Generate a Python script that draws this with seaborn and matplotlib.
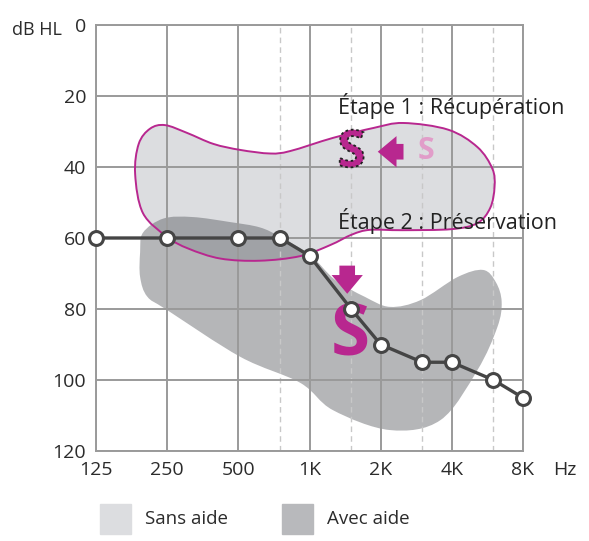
import numpy as np
import matplotlib
matplotlib.use("Agg")
import matplotlib.pyplot as plt
import matplotlib.patheffects as pe
from matplotlib.path import Path
from matplotlib.patches import PathPatch, Rectangle
import seaborn as sns
import pandas as pd

# --- donnees ---
freq_labels = ["125", "250", "500", "1K", "2K", "4K", "8K"]
freq_main = [125, 250, 500, 1000, 2000, 4000, 8000]
freq_half = [750, 1500, 3000, 6000]
db_ticks = [0, 20, 40, 60, 80, 100, 120]

seuil_freq = [125, 250, 500, 750, 1000, 1500, 2000, 3000, 4000, 6000, 8000]
seuil_db = [60, 60, 60, 60, 65, 80, 90, 95, 95, 100, 105]

# contour "Sans aide" (octaves depuis 125 Hz, dB HL)
sans_oct = [0.97, 1.28, 1.65, 2.03, 2.45, 2.73, 3.33, 3.9, 4.32, 4.95, 5.36, 5.57,
            5.6, 5.54, 5.36, 5.0, 4.3, 3.85, 3.6, 3.29, 2.87, 2.3, 1.75, 1.3, 1.0,
            0.66, 0.55, 0.6, 0.76]
sans_db = [28.2, 30.4, 33.5, 35.2, 36.2, 35.5, 31.8, 29.0, 27.6, 29.5, 34.4, 40.5,
           45.6, 51.5, 55.8, 57.5, 57.8, 57.7, 59.0, 62.0, 65.1, 66.4, 65.8, 63.0,
           59.7, 53.0, 42.0, 33.5, 29.2]

# contour "Avec aide"
avec_oct = [1.36, 1.88, 2.3, 2.59, 3.01, 3.36, 3.78, 4.13, 4.56, 5.08, 5.44, 5.62,
            5.7, 5.64, 5.36, 4.84, 4.13, 3.33, 2.87, 2.03, 1.0, 0.72, 0.62, 0.62, 0.66, 0.95]
avec_db = [54.1, 55.5, 57.0, 59.7, 64.8, 71.8, 76.6, 79.4, 77.5, 71.0, 69.0, 72.5,
           78.0, 85.1, 97.2, 111.3, 114.1, 108.5, 100.8, 93.5, 80.3, 76.5, 71.0, 64.0,
           58.5, 54.5]

MAGENTA = "#b8278f"
ROSE = "#e19dc9"
GRIS_CLAIR = "#dcdde0"
GRIS_FONCE = "#b8b9bc"
TXT = "#2b2b2b"


def octave(f):
    return np.log2(np.asarray(f, dtype=float) / 125.0)


def blob_path(xs, ys):
    # courbe fermee lissee (Catmull-Rom -> Bezier cubiques)
    p = np.column_stack([xs, ys])
    n = len(p)
    verts = [p[0]]
    codes = [Path.MOVETO]
    for i in range(n):
        p0, p1, p2, p3 = p[i - 1], p[i], p[(i + 1) % n], p[(i + 2) % n]
        verts += [p1 + (p2 - p0) / 6.0, p2 - (p3 - p1) / 6.0, p2]
        codes += [Path.CURVE4] * 3
    return Path(verts, codes)


sns.set_theme(style="white")
plt.rcParams["font.family"] = ["Open Sans", "DejaVu Sans"]

fig = plt.figure(figsize=(5.89, 5.41), dpi=100)
ax = fig.add_axes([96 / 589, 90 / 541, 427 / 589, 426 / 541])

ax.add_patch(PathPatch(blob_path(sans_oct, sans_db), facecolor=GRIS_CLAIR,
                       edgecolor="none", zorder=1))
ax.add_patch(PathPatch(blob_path(avec_oct, avec_db), facecolor="#4f5157",
                       alpha=0.42, edgecolor="none", zorder=1.2))
ax.add_patch(PathPatch(blob_path(sans_oct, sans_db), facecolor="none",
                       edgecolor=MAGENTA, lw=1.4, zorder=3))

# grille
for f in octave(freq_half):
    ax.axvline(f, color="#c8c8c8", lw=1.0, ls=(0, (4, 3)), zorder=2)
for f in octave(freq_main):
    ax.axvline(f, color="#9a9a9a", lw=1.4, zorder=2)
for d in db_ticks:
    ax.axhline(d, color="#9a9a9a", lw=1.4, zorder=2)

df = pd.DataFrame({"oct": octave(seuil_freq), "db": seuil_db})
sns.lineplot(data=df, x="oct", y="db", ax=ax, color="#454545", lw=2.4,
             marker="o", markersize=10, markerfacecolor="white",
             markeredgecolor="#454545", markeredgewidth=2.2, zorder=5,
             sort=False)
ax.lines[-1].set_clip_on(False)

ax.set_xlim(0, 6)
ax.set_ylim(120, 0)
ax.set_xticks(octave(freq_main))
ax.set_xticklabels(freq_labels)
ax.set_yticks(db_ticks)
ax.set_xlabel("")
ax.set_ylabel("")
ax.tick_params(axis="both", length=0, labelsize=14, colors=TXT)
ax.tick_params(axis="x", pad=7)
ax.tick_params(axis="y", pad=7)
for s in ax.spines.values():
    s.set_color("#9a9a9a")
    s.set_linewidth(1.4)

fig.text(12 / 589, 1 - 30 / 541, "dB HL", fontsize=13, color=TXT, va="center")
fig.text(553 / 589, 1 - 470 / 541, "Hz", fontsize=14, color=TXT, va="center")

# annotations
ax.text(3.40, 25.2, "Étape 1 : Récupération", fontsize=15.5, color="#222222",
        va="baseline", ha="left", zorder=6)
ax.text(3.40, 57.6, "Étape 2 : Préservation", fontsize=15.5, color="#222222",
        va="baseline", ha="left", zorder=6)

ax.text(3.59, 36.3, "S", fontsize=37, fontweight="bold", color=MAGENTA,
        ha="center", va="center", zorder=6,
        path_effects=[pe.PathPatchEffect(edgecolor="#222222", facecolor=MAGENTA,
                                         linestyle=(0, (1.5, 1.5)), linewidth=1.3)])
ax.text(4.64, 35.5, "S", fontsize=22, fontweight="bold", color=ROSE,
        ha="center", va="center", zorder=6)
ax.annotate("", xy=(3.92, 35.7), xytext=(4.36, 35.7),
            arrowprops=dict(arrowstyle="simple,head_width=1.5,head_length=0.9,tail_width=0.75",
                            color=MAGENTA, mutation_scale=15, lw=0), zorder=6)
ax.annotate("", xy=(3.53, 76.5), xytext=(3.53, 67.0),
            arrowprops=dict(arrowstyle="simple,head_width=1.5,head_length=0.9,tail_width=0.75",
                            color=MAGENTA, mutation_scale=15, lw=0), zorder=6)
ax.text(3.57, 87.5, "S", fontsize=51, fontweight="bold", color=MAGENTA,
        ha="center", va="center", zorder=4)

# legende
fig.patches.append(Rectangle((100 / 589, 7 / 541), 31 / 589, 30 / 541,
                             transform=fig.transFigure, color=GRIS_CLAIR))
fig.patches.append(Rectangle((282 / 589, 7 / 541), 31 / 589, 30 / 541,
                             transform=fig.transFigure, color=GRIS_FONCE))
fig.text(145 / 589, 22 / 541, "Sans aide", fontsize=13.5, color=TXT, va="center")
fig.text(327 / 589, 22 / 541, "Avec aide", fontsize=13.5, color=TXT, va="center")

fig.savefig("out.png", dpi=100)
